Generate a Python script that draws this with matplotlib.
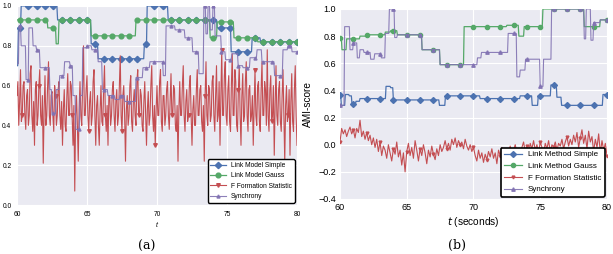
import numpy as np
import matplotlib
matplotlib.use('Agg')
import matplotlib.pyplot as plt

# sample times
t_red_a = np.arange(321) * 0.0625 + 60
t_red_b = np.arange(161) * 0.125 + 60
t_fine = np.arange(401) * 0.05 + 60

# ---- (a) ----
red_a = [0.55, 0.62, 0.40, 0.52, 0.68, 0.42, 0.45, 0.60, 0.62, 0.45, 0.38, 0.55, 0.58, 0.40, 0.45, 0.66,
         0.70, 0.45, 0.37, 0.52, 0.30, 0.58, 0.62, 0.40, 0.45, 0.60, 0.68, 0.45, 0.40, 0.55, 0.21, 0.48,
         0.65, 0.40, 0.45, 0.60, 0.72, 0.45, 0.40, 0.55, 0.57, 0.45, 0.37, 0.60, 0.55, 0.40, 0.45, 0.58,
         0.62, 0.45, 0.38, 0.52, 0.30, 0.48, 0.58, 0.40, 0.37, 0.55, 0.66, 0.45, 0.45, 0.62, 0.60, 0.45,
         0.30, 0.50, 0.07, 0.45, 0.55, 0.40, 0.22, 0.48, 0.62, 0.45, 0.40, 0.60, 0.80, 0.45, 0.45, 0.58,
         0.65, 0.45, 0.37, 0.52, 0.57, 0.40, 0.45, 0.62, 0.68, 0.45, 0.30, 0.50, 0.55, 0.40, 0.30, 0.48,
         0.60, 0.42, 0.40, 0.58, 0.70, 0.45, 0.37, 0.50, 0.30, 0.55, 0.55, 0.40, 0.45, 0.58, 0.62, 0.45,
         0.37, 0.52, 0.58, 0.40, 0.45, 0.60, 0.75, 0.45, 0.37, 0.55, 0.60, 0.45, 0.22, 0.48, 0.55, 0.40,
         0.45, 0.60, 0.65, 0.42, 0.37, 0.52, 0.58, 0.45, 0.40, 0.62, 0.68, 0.45, 0.45, 0.58, 0.55, 0.40,
         0.37, 0.52, 0.62, 0.45, 0.30, 0.48, 0.57, 0.40, 0.45, 0.60, 0.70, 0.45, 0.37, 0.50, 0.30, 0.48,
         0.60, 0.45, 0.45, 0.62, 0.68, 0.42, 0.37, 0.55, 0.55, 0.40, 0.45, 0.58, 0.62, 0.45, 0.38, 0.52,
         0.66, 0.45, 0.45, 0.60, 0.58, 0.40, 0.37, 0.50, 0.22, 0.48, 0.62, 0.45, 0.45, 0.60, 0.70, 0.45,
         0.37, 0.52, 0.58, 0.42, 0.45, 0.60, 0.65, 0.45, 0.30, 0.48, 0.55, 0.40, 0.40, 0.58, 0.68, 0.45,
         0.45, 0.58, 0.60, 0.42, 0.37, 0.50, 0.22, 0.55, 0.72, 0.45, 0.40, 0.60, 0.58, 0.42, 0.45, 0.62,
         0.65, 0.45, 0.37, 0.55, 0.70, 0.42, 0.45, 0.62, 0.30, 0.55, 0.78, 0.45, 0.45, 0.65, 0.72, 0.45,
         0.40, 0.58, 0.65, 0.42, 0.37, 0.60, 0.76, 0.45, 0.45, 0.68, 0.62, 0.40, 0.37, 0.58, 0.70, 0.45,
         0.30, 0.55, 0.66, 0.42, 0.45, 0.62, 0.72, 0.45, 0.37, 0.58, 0.60, 0.42, 0.45, 0.55, 0.30, 0.50,
         0.68, 0.45, 0.40, 0.60, 0.62, 0.42, 0.37, 0.58, 0.72, 0.45, 0.45, 0.62, 0.58, 0.40, 0.78, 0.45,
         0.37, 0.58, 0.65, 0.42, 0.45, 0.60, 0.25, 0.50, 0.70, 0.45, 0.40, 0.58, 0.62, 0.42, 0.37, 0.55,
         0.68, 0.45, 0.22, 0.50, 0.60, 0.42, 0.45, 0.58, 0.25, 0.52, 0.66, 0.42, 0.37, 0.58, 0.70, 0.45,
         0.30]

blue_a_t = [60.0, 60.1, 60.3, 62.9, 65.3, 65.8, 69.1, 69.3, 70.8, 74.3, 75.3, 76.8, 77.4]
blue_a_v = [0.70, 0.89, 1.00, 0.93, 0.81, 0.735, 0.81, 1.00, 0.93, 0.89, 0.77, 0.84, 0.82]

green_a_t = [60.0, 62.2, 62.8, 63.0, 65.3, 68.5, 73.8, 74.3, 75.5, 77.2]
green_a_v = [0.93, 0.89, 0.81, 0.93, 0.85, 0.93, 0.84, 0.92, 0.84, 0.82]

sync_a_t = [60.0, 60.15, 60.3, 60.65, 60.85, 61.15, 61.4, 61.65, 62.35, 62.5,
            62.8, 63.05, 63.4, 63.8, 64.0, 64.2, 64.5, 64.7, 65.0, 65.35,
            65.8, 66.1, 66.5, 67.0, 67.35, 67.7, 68.5, 69.0, 69.5, 70.45,
            70.65, 71.3, 72.0, 72.55, 73.0, 73.35, 73.5, 73.65, 73.8, 74.0,
            74.15, 74.6, 74.9, 75.35, 75.8, 76.15, 76.65, 77.15, 77.5, 78.4,
            79.0, 79.35, 79.65]
sync_a_v = [0.71, 0.90, 0.80, 0.63, 0.89, 0.80, 0.78, 0.69, 0.58, 0.46,
            0.58, 0.65, 0.72, 0.70, 0.55, 0.38, 0.55, 0.79, 0.80, 0.78,
            0.72, 0.58, 0.55, 0.53, 0.55, 0.52, 0.64, 0.69, 0.72, 0.65,
            0.90, 0.88, 0.84, 0.77, 0.66, 1.00, 0.86, 1.00, 0.88, 1.00,
            0.85, 0.77, 0.73, 0.76, 0.70, 0.69, 0.74, 0.78, 0.72, 0.65,
            0.78, 0.80, 0.77]

# ---- (b) ----
red_b = [0.02, 0.12, 0.08, 0.11, 0.06, 0.10, 0.13, 0.08,
         0.11, 0.05, 0.12, 0.09, 0.18, 0.06, 0.10, 0.04,
         0.09, 0.03, 0.07, 0.00, 0.05, -0.02, 0.04, -0.05,
         0.02, -0.08, -0.01, -0.04, -0.10, 0.00, -0.06, -0.12,
         -0.03, -0.07, 0.02, -0.09, -0.04, -0.15, -0.06, -0.20,
         -0.05, 0.01, -0.08, -0.02, -0.10, 0.03, -0.04, -0.12,
         -0.03, -0.08, 0.00, -0.06, -0.14, -0.04, -0.09, -0.01,
         -0.07, -0.11, -0.03, -0.08, 0.00, -0.05, -0.02, 0.03,
         -0.03, 0.01, -0.04, 0.04, 0.00, 0.05, -0.02, 0.03,
         0.00, 0.02, -0.03, 0.04, -0.01, -0.04, 0.00, -0.05,
         -0.02, -0.08, -0.12, -0.04, -0.10, -0.06, -0.13, -0.07,
         -0.11, -0.05, -0.09, -0.03, -0.10, -0.06, -0.14, -0.04,
         -0.08, -0.02, -0.07, -0.10, -0.03, -0.06, -0.01, -0.08,
         -0.04, 0.00, -0.06, -0.03, -0.09, -0.02, 0.02, -0.05,
         -0.01, -0.07, 0.01, -0.03, 0.03, -0.04, 0.00, -0.06,
         0.02, -0.02, -0.06, 0.01, -0.03, 0.03, -0.05, 0.00,
         -0.02, 0.02, -0.04, 0.01, -0.01, 0.04, -0.03, 0.02,
         0.06, -0.01, 0.04, 0.00, 0.07, 0.02, 0.09, -0.02,
         0.05, 0.11, 0.01, 0.07, -0.03, 0.10, 0.02, 0.06,
         -0.05, 0.04, -0.02, 0.08, -0.06, 0.03, -0.04, 0.01,
         -0.08]

blue_b_t = [60.0, 60.1, 60.4, 60.7, 60.9, 61.2, 61.5, 63.45, 63.8, 64.0,
            67.45, 67.9, 70.5, 73.5, 74.4, 74.85, 75.8, 76.25, 76.6, 79.7]
blue_b_v = [0.37, 0.29, 0.37, 0.36, 0.30, 0.32, 0.34, 0.43, 0.42, 0.33,
            0.29, 0.36, 0.34, 0.36, 0.29, 0.36, 0.44, 0.35, 0.29, 0.37]

green_b_t = [60.0, 60.15, 60.5, 61.5, 62.0, 63.4, 63.8, 64.3, 66.15, 67.5,
             69.3, 72.5, 73.4, 73.8, 75.2, 78.3, 79.5]
green_b_v = [0.79, 0.70, 0.78, 0.80, 0.81, 0.83, 0.84, 0.81, 0.70, 0.59,
             0.87, 0.88, 0.80, 0.87, 1.00, 0.87, 0.92]

sync_b_t = [60.0, 60.35, 60.75, 61.0, 61.3, 61.5, 61.8, 62.3, 62.6, 63.1,
            63.4, 63.7, 64.1, 64.3, 66.15, 67.5, 70.3, 70.6, 72.6, 73.25,
            73.5, 73.9, 75.0, 75.25, 75.85, 78.3, 78.45, 78.8, 79.0, 79.5]
sync_b_v = [0.29, 0.87, 0.70, 0.75, 0.64, 0.70, 0.68, 0.63, 0.67, 0.64,
            0.82, 1.00, 0.79, 0.81, 0.70, 0.59, 0.64, 0.68, 0.82, 0.50,
            0.55, 0.63, 0.43, 0.63, 1.00, 0.78, 1.00, 0.77, 0.90, 0.92]


def steps(times, vals):
    idx = np.searchsorted(times, t_fine + 1e-9, side='right') - 1
    return np.array(vals)[idx]


c_blue = '#4C72B0'
c_green = '#55A868'
c_red = '#C44E52'
c_sync = '#8172B2'

plt.rcParams['font.family'] = ['Liberation Sans', 'DejaVu Sans']
fig = plt.figure(figsize=(6.13, 2.54), dpi=100)

ax1 = fig.add_axes([17 / 613, 1 - 205 / 254, 280 / 613, 199 / 254])
ax2 = fig.add_axes([340 / 613, 1 - 199 / 254, 267 / 613, 190 / 254])

for ax in (ax1, ax2):
    ax.set_facecolor('#EAEAF2')
    ax.grid(True, color='white', lw=0.8)
    ax.set_axisbelow(True)
    for s in ax.spines.values():
        s.set_visible(False)
    ax.set_xlim(60, 80)
    ax.set_xticks([60, 65, 70, 75, 80])

# (a)
ax1.plot(t_fine, steps(blue_a_t, blue_a_v), color=c_blue, lw=0.9, marker='D', ms=3.2,
         markevery=(4, 12), label='Link Model Simple')
ax1.plot(t_fine, steps(green_a_t, green_a_v), color=c_green, lw=0.9, marker='o', ms=3.4,
         markevery=(4, 12), label='Link Model Gauss')
ax1.plot(t_red_a, red_a, color=c_red, lw=0.8, marker='v', ms=2.6, markevery=(6, 19),
         label='F Formation Statistic')
ax1.plot(t_fine, steps(sync_a_t, sync_a_v), color=c_sync, lw=0.8, marker='^', ms=2.2,
         markevery=(4, 12), alpha=0.9, label='Synchrony')
ax1.set_ylim(0, 1.0)
ax1.set_yticks([0.0, 0.2, 0.4, 0.6, 0.8, 1.0])
ax1.tick_params(length=0, labelsize=4.8, pad=4)
ax1.set_xlabel('t', fontsize=5, style='italic', labelpad=3)
leg1 = ax1.legend(loc='lower right', fontsize=4.8, frameon=True, fancybox=True,
                  framealpha=1, facecolor='white', edgecolor='black',
                  borderaxespad=0.35, handlelength=2.3)
leg1.get_frame().set_linewidth(1.0)

# (b)
ax2.plot(t_fine, steps(blue_b_t, blue_b_v), color=c_blue, lw=0.9, marker='D', ms=3,
         markevery=20, label='Link Method Simple')
ax2.plot(t_fine, steps(green_b_t, green_b_v), color=c_green, lw=0.9, marker='o', ms=3,
         markevery=20, label='Link Method Gauss')
ax2.plot(t_red_b, red_b, color=c_red, lw=0.8, marker='v', ms=2, markevery=8,
         label='F Formation Statistic')
ax2.plot(t_fine, steps(sync_b_t, sync_b_v), color=c_sync, lw=0.8, marker='^', ms=2.5,
         markevery=20, alpha=0.9, label='Synchrony')
ax2.set_ylim(-0.4, 1.0)
ax2.set_yticks([-0.4, -0.2, 0.0, 0.2, 0.4, 0.6, 0.8, 1.0])
ax2.tick_params(length=0, labelsize=6.5, pad=3)
ax2.set_ylabel('AMI-score', fontsize=7.3, labelpad=4)
ax2.set_xlabel(r'$t$ (seconds)', fontsize=7.3, labelpad=2)
leg2 = ax2.legend(loc='lower right', fontsize=5.8, frameon=True, fancybox=True,
                  framealpha=1, facecolor='white', edgecolor='black',
                  borderaxespad=0.3, handlelength=2.2)
leg2.get_frame().set_linewidth(1.2)

fig.text(147 / 613, 1 - 246 / 254, '(a)', family='DejaVu Serif', fontsize=9,
         ha='center', va='center')
fig.text(457 / 613, 1 - 245 / 254, '(b)', family='DejaVu Serif', fontsize=9,
         ha='center', va='center')

fig.savefig('out.png', dpi=100)
